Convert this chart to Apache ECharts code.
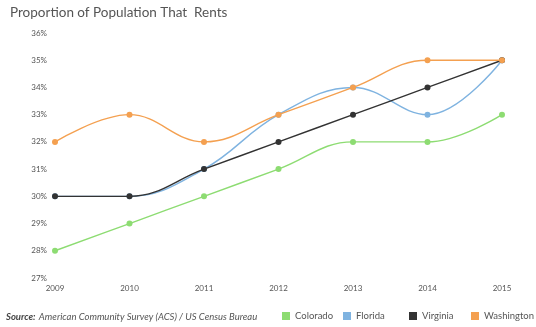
<!DOCTYPE html>
<html><head><meta charset="utf-8">
<script src="https://cdn.jsdelivr.net/npm/echarts@6/dist/echarts.min.js"></script>
<style>html,body{margin:0;padding:0;background:#fff}#c{width:536px;height:327px}</style>
</head><body><div id="c"></div>
<script>
var years = ['2009','2010','2011','2012','2013','2014','2015'];
var colorado = [28,29,30,31,32,32,33];
var florida = [30,30,31,33,34,33,35];
var virginia = [30,30,31,32,33,34,35];
var washington = [32,33,32,33,34,35,35];
var seriesNames = ['Colorado','Florida','Virginia','Washington'];
var colors = ['#8ddc72','#7fb3e0','#333333','#f4a050'];
var legendLefts = [282,343,409,471];
var font = 'Lato';
var chart = echarts.init(document.getElementById('c'));
function mk(name, data, color, z){
  return {name:name,type:'line',data:data,smooth:0.4,symbol:'circle',symbolSize:6,
    itemStyle:{color:color},lineStyle:{color:color,width:1.4},z:z};
}
chart.setOption({
  animation:false,
  color:colors,
  title:{text:'Proportion of Population That  Rents',left:5,top:1,
    textStyle:{fontFamily:font,fontSize:13.5,fontWeight:'normal',color:'#555'}},
  grid:{left:55,right:34,top:33,bottom:49},
  xAxis:{type:'category',data:years,boundaryGap:false,
    axisLine:{show:false},axisTick:{show:false},splitLine:{show:false},
    axisLabel:{fontFamily:font,fontSize:8,color:'#555',margin:6}},
  yAxis:{type:'value',min:27,max:36,interval:1,
    axisLine:{show:false},axisTick:{show:false},splitLine:{show:false},
    axisLabel:{formatter:'{value}%',fontFamily:font,fontSize:8,color:'#555',margin:8}},
  legend:seriesNames.map(function(n,i){
    return {data:[n],left:legendLefts[i],top:311,padding:0,width:70,icon:'rect',itemWidth:8,itemHeight:8,
      textStyle:{fontFamily:font,fontSize:9.5,color:'#555',width:60,overflow:'none'}};
  }),
  graphic:[{type:'text',left:6,top:311,style:{
    text:'{b|Source:} {i|American Community Survey (ACS) / US Census Bureau}',
    rich:{b:{fontFamily:font,fontStyle:'italic',fontWeight:'bold',fontSize:9.5,fill:'#444'},
          i:{fontFamily:font,fontStyle:'italic',fontSize:9.5,fill:'#555'}}}}],
  series:[mk('Colorado',colorado,colors[0],2),mk('Florida',florida,colors[1],3),
          mk('Virginia',virginia,colors[2],4),mk('Washington',washington,colors[3],5)]
});
</script></body></html>
